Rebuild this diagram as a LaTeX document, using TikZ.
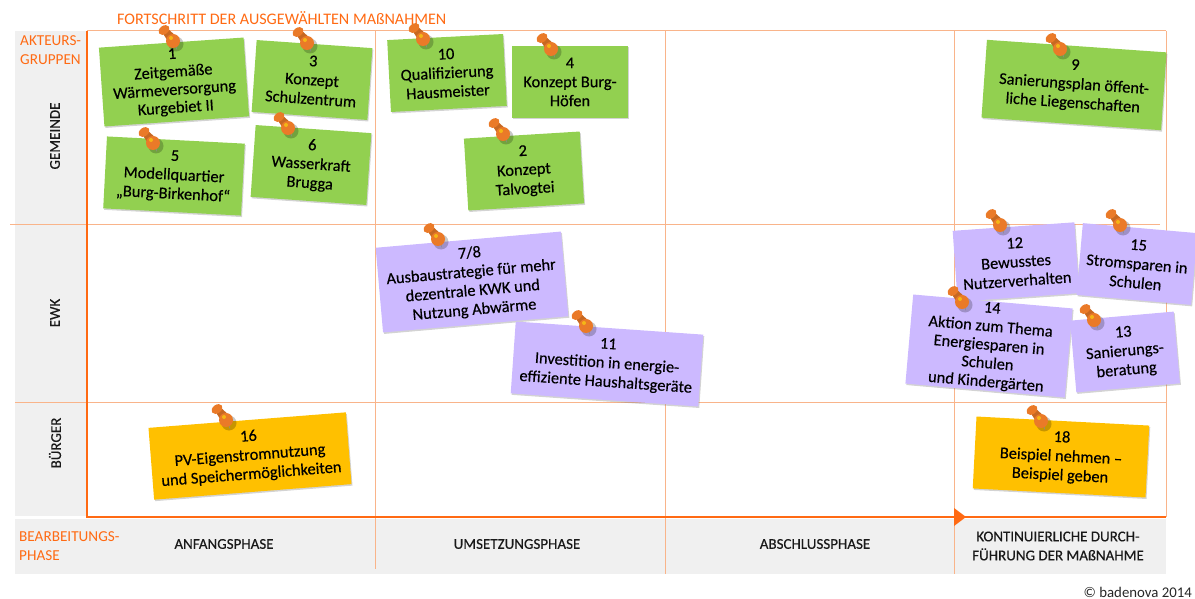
\documentclass[tikz,border=0pt]{standalone}
\usepackage{fontspec}
\setmainfont{Carlito}
\newfontfamily\notefont[FakeBold=0.35]{Carlito}
\usetikzlibrary{shadows}
\definecolor{kitorange}{HTML}{FF6A13}
\definecolor{kitline}{HTML}{F9B48A}
\definecolor{kitgrey}{HTML}{F0F0F0}
\definecolor{notegreen}{HTML}{92D050}
\definecolor{notelilac}{HTML}{CCB9FF}
\definecolor{noteyellow}{HTML}{FFC000}
\definecolor{pinorange}{HTML}{EA7A28}
\tikzset{
	note/.style={align=center,inner sep=1pt,font=\notefont\fontsize{16.4}{19}\selectfont,text=black,drop shadow={shadow xshift=1pt,shadow yshift=-1.5pt,opacity=0.35}},
	gemeinde/.style={note,fill=notegreen},
	ewk/.style={note,fill=notelilac},
	buerger/.style={note,fill=noteyellow},
	phase/.style={align=center,font=\notefont\fontsize{15}{19}\selectfont,text=black!90},
	head/.style={align=left,inner sep=0pt,font=\fontsize{15.2}{19.5}\selectfont,text=kitorange},
	grid/.style={kitline,line width=1pt},
	pin/.pic={
		\fill [black,opacity=0.22] (3,3) circle (7.5);
		\fill [black!45] (1,2) -- (4,9) -- (3,2) -- cycle;
		\fill [pinorange!85!black] (-11,-9) -- (-4,2) -- (4,-4) -- (-6,-13) -- cycle;
		\fill [pinorange,shift={(-9,-11)},rotate=35] (0,0) ellipse (6 and 4.2);
		\fill [pinorange] (0,0) circle (7);
		\fill [pinorange!55!yellow] (-2,-3) circle (2);
	}
}
\begin{document}
\begin{tikzpicture}[x=1pt,y=-1pt]
	\useasboundingbox (0,0) rectangle (1195,599);
	% background
	\fill [kitgrey] (15,31) rectangle (86,516);
	\fill [kitgrey] (15,519) rectangle (1166,574);
	% grid
	\draw [grid] (87,31) -- (1166,31);
	\draw [grid] (10,224) -- (1160,224);
	\draw [grid] (15,402) -- (1166,402);
	\draw [grid] (375,31) -- (375,569);
	\draw [grid] (665,31) -- (665,574);
	\draw [grid] (954,31) -- (954,574);
	\draw [grid] (1166,31) -- (1166,517);
	\draw [kitorange,line width=2.7pt] (87,31) -- (87,517) -- (1166,517);
	\fill [kitorange] (954,508) -- (966,517) -- (954,526) -- cycle;
	% labels
	\node [head,anchor=west,font=\fontsize{16.1}{19}\selectfont] (title) at (117,18) {FORTSCHRITT DER AUSGEWÄHLTEN MAßNAHMEN};
	\node [head,anchor=west] (gruppen) at (20,50) {AKTEURS-\\GRUPPEN};
	\node [head,anchor=west] (bearb) at (19,546) {BEARBEITUNGS-\\PHASE};
	\node [phase,rotate=90] (rgemeinde) at (55,136) {GEMEINDE};
	\node [phase,rotate=90] (rewk) at (55,313) {EWK};
	\node [phase,rotate=90] (rbuerger) at (55,443) {BÜRGER};
	\node [phase] (panfang) at (224,544) {ANFANGSPHASE};
	\node [phase] (pumsetz) at (517,544) {UMSETZUNGSPHASE};
	\node [phase] (pabschl) at (815,544) {ABSCHLUSSPHASE};
	\node [phase] (pkont) at (1058,546) {KONTINUIERLICHE DURCH-\\FÜHRUNG DER MAßNAHME};
	\node [anchor=east,inner sep=0pt,font=\fontsize{14.8}{16}\selectfont,text=black!85] (copy) at (1192,592) {© badenova 2014};
	% notes
	\node [gemeinde,rotate=4,minimum width=145,minimum height=79,font=\notefont\fontsize{16.4}{18}\selectfont] (n1) at (174,82) {1\\Zeitgemäße\\Wärmeversorgung\\Kurgebiet II};
	\node [gemeinde,rotate=-4,minimum width=116,minimum height=72] (n3) at (312,80) {3\\Konzept\\Schulzentrum};
	\node [gemeinde,rotate=-4,minimum width=116,minimum height=72] (n6) at (311,165) {6\\Wasserkraft\\Brugga};
	\node [gemeinde,rotate=-3,minimum width=138,minimum height=72] (n5) at (174,176) {5\\Modellquartier\\„Burg-Birkenhof“};
	\node [gemeinde,rotate=3,minimum width=116,minimum height=72] (n10) at (447,73) {10\\Qualifizierung\\Hausmeister};
	\node [gemeinde,minimum width=116,minimum height=72] (n4) at (570,82) {4\\Konzept Burg-\\Höfen};
	\node [gemeinde,rotate=3.5,minimum width=116,minimum height=72] (n2) at (524,171) {2\\Konzept\\Talvogtei};
	\node [gemeinde,rotate=-4,minimum width=180,minimum height=78] (n9) at (1074,85) {9\\Sanierungsplan öffent-\\liche Liegenschaften};
	\node [ewk,rotate=5,minimum width=186,minimum height=85] (n78) at (472,282) {7/8\\Ausbaustrategie für mehr\\dezentrale KWK und\\Nutzung Abwärme};
	\node [ewk,rotate=-4,minimum width=188,minimum height=72] (n11) at (607,364) {11\\Investition in energie-\\effiziente Haushaltsgeräte};
	\node [ewk,rotate=4,minimum width=122,minimum height=71] (n12) at (1016,262) {12\\Bewusstes\\Nutzerverhalten};
	\node [ewk,rotate=-5,minimum width=115,minimum height=72] (n15) at (1137,264) {15\\Stromsparen in\\Schulen};
	\node [ewk,rotate=-5,minimum width=160,minimum height=86,font=\notefont\fontsize{16.4}{18.5}\selectfont] (n14) at (989,346) {14\\Aktion zum Thema\\Energiesparen in\\Schulen\\und Kindergärten};
	\node [ewk,rotate=5,minimum width=104,minimum height=72] (n13) at (1125,352) {13\\Sanierungs-\\beratung};
	\node [buerger,rotate=4.5,minimum width=198,minimum height=72] (n16) at (250,456) {16\\PV-Eigenstromnutzung\\und Speichermöglichkeiten};
	\node [buerger,rotate=-3,minimum width=173,minimum height=72] (n18) at (1061,457) {18\\Beispiel nehmen –\\Beispiel geben};
	% pins
	\foreach \x/\y in {173/41,307/43,288/128,153/143,423/39,551/49,503/134,1060/49,438/239,586/326,1000/225,1120/225,962/302,1094/320,226/420,1041/421}
		\path (\x,\y) pic {pin};
\end{tikzpicture}
\end{document}
